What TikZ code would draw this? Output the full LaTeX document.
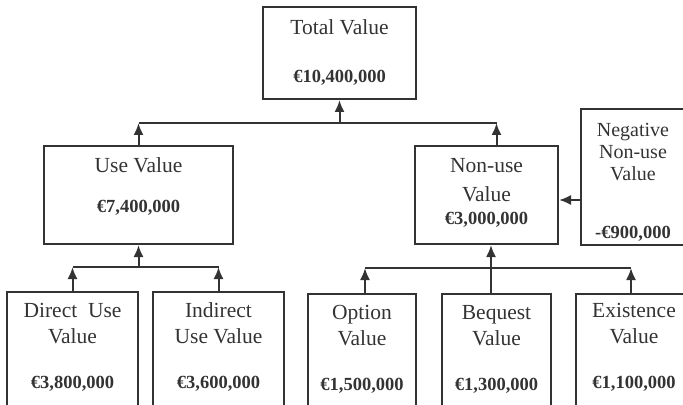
\documentclass[tikz,border=0pt]{standalone}
\usepackage{fontspec}
\setmainfont{Liberation Serif}
\usepackage{tikz}
\usetikzlibrary{positioning}
\usetikzlibrary{arrows.meta}
\definecolor{ink}{gray}{0.2}

\tikzset{
  valbox/.style={draw=ink, line width=1pt, inner sep=0pt},
  lbl/.style={text=ink, font=\fontsize{10.75}{13}\selectfont, align=center, anchor=base, inner sep=0pt},
  money/.style={text=ink, font=\fontsize{9.25}{11}\selectfont\bfseries, anchor=base, inner sep=0pt},
  up/.style={draw=ink, line width=1pt, -{Latex[length=6pt,width=5pt]}},
  link/.style={draw=ink, line width=1pt},
}

\begin{document}
\begin{tikzpicture}[x=0.5pt,y=-0.5pt]
  \useasboundingbox (0,0) rectangle (683,405);

  % boxes
  \node[valbox, minimum width=76.5pt, minimum height=46pt] (total) at (339.5,53) {};
  \node[valbox, minimum width=94.5pt, minimum height=49pt] (use) at (138.5,195) {};
  \node[valbox, minimum width=71.5pt, minimum height=49pt] (nonuse) at (486.5,195) {};
  \node[valbox, minimum width=52pt, minimum height=68pt] (neg) at (633,177) {};
  \node[valbox, minimum width=65.5pt, minimum height=64pt] (direct) at (72.5,356) {};
  \node[valbox, minimum width=65.5pt, minimum height=64pt] (indirect) at (218.5,356) {};
  \node[valbox, minimum width=54pt, minimum height=63pt] (option) at (362,356.5) {};
  \node[valbox, minimum width=54.5pt, minimum height=63pt] (bequest) at (496.5,356.5) {};
  \node[valbox, minimum width=58pt, minimum height=63pt] (existence) at (634,356.5) {};

  % texts (multi-line texts sit on their last baseline)
  \node[lbl] (totaltxt) at (339.5,35) {Total Value};
  \node[money] (totalval) at (339.5,83) {€10,400,000};
  \node[lbl] (usetxt) at (138.5,173) {Use Value};
  \node[money] (useval) at (138.5,213) {€7,400,000};
  \node[lbl, font=\fontsize{10.75}{14.5}\selectfont] (nonusetxt) at (486.5,202) {Non-use\\Value};
  \node[money] (nonuseval) at (486.5,225) {€3,000,000};
  \node[lbl, font=\fontsize{10}{11}\selectfont] (negtxt) at (633,181) {Negative\\Non-use\\Value};
  \node[money] (negval) at (633,238) {-€900,000};
  \node[lbl] (directtxt) at (72.5,343) {Direct\ \ Use\\Value};
  \node[money] (directval) at (72.5,388) {€3,800,000};
  \node[lbl] (indirecttxt) at (218.5,343) {Indirect\\Use Value};
  \node[money] (indirectval) at (218.5,388) {€3,600,000};
  \node[lbl] (optiontxt) at (362,345) {Option\\Value};
  \node[money] (optionval) at (362,390) {€1,500,000};
  \node[lbl] (bequesttxt) at (496.5,345) {Bequest\\Value};
  \node[money] (bequestval) at (496.5,390) {€1,300,000};
  \node[lbl] (existencetxt) at (634,343) {Existence\\Value};
  \node[money] (existenceval) at (634,388) {€1,100,000};

  % connectors
  \coordinate (topbus) at (0,123);
  \coordinate (usebus) at (0,267);
  \coordinate (nonusebus) at (0,268);

  \draw[up] (use.north) -- (use.north |- topbus);
  \draw[up] ([xshift=5pt]nonuse.north) -- ([xshift=5pt]nonuse.north |- topbus);
  \draw[link] (use.north |- topbus) -- ([xshift=5pt]nonuse.north |- topbus);
  \draw[up] (total.south |- topbus) -- (total.south);

  \draw[up] (direct.north) -- (direct.north |- usebus);
  \draw[up] (indirect.north) -- (indirect.north |- usebus);
  \draw[link] (direct.north |- usebus) -- (indirect.north |- usebus);
  \draw[up] (use.south |- usebus) -- (use.south);

  \draw[up] ([xshift=1.5pt]option.north) -- ([xshift=1.5pt]option.north |- nonusebus);
  \draw[up] ([xshift=-1.5pt]existence.north) -- ([xshift=-1.5pt]existence.north |- nonusebus);
  \draw[link] ([xshift=1.5pt]option.north |- nonusebus) -- ([xshift=-1.5pt]existence.north |- nonusebus);
  \draw[up] ([xshift=-2.75pt]bequest.north) -- ([xshift=-2.75pt]bequest.north |- nonuse.south);

  \draw[up] ([yshift=-11.5pt]neg.west) -- ([yshift=-11.5pt]neg.west -| nonuse.east);
\end{tikzpicture}
\end{document}
